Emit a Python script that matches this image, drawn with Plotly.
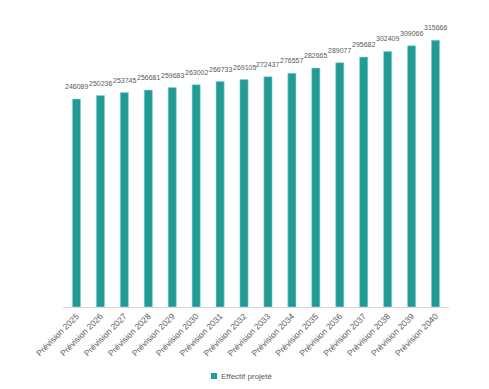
import plotly.graph_objects as go

categories = ["Prévision 2025", "Prévision 2026", "Prévision 2027", "Prévision 2028",
              "Prévision 2029", "Prévision 2030", "Prévision 2031", "Prévision 2032",
              "Prévision 2033", "Prévision 2034", "Prévision 2035", "Prévision 2036",
              "Prévision 2037", "Prévision 2038", "Prévision 2039", "Prévision 2040"]
values = [246089, 250236, 253745, 256681, 259683, 263002, 266733, 269105,
          272437, 276557, 282665, 289077, 295682, 302409, 309066, 315666]
series_name = "Effectif projeté"
bar_color = "#229b96"

fig = go.Figure()
fig.add_trace(go.Bar(
    x=categories, y=values, name=series_name,
    marker=dict(color=bar_color, line=dict(color="#8fd3cf", width=0.6)),
    width=0.34, showlegend=False,
))
for c, v in zip(categories, values):
    fig.add_annotation(x=c, y=v, text=str(v), showarrow=False, yanchor="bottom",
                       yshift=7, font=dict(size=7, color="#595959",
                                           family="Liberation Sans, Arial"))
# legend
fig.add_shape(type="rect", xref="paper", yref="paper",
              x0=(211 - 63) / 386, x1=(217 - 63) / 386,
              y0=(307 - 379) / 287, y1=(307 - 373) / 287,
              fillcolor=bar_color, line=dict(width=0))
fig.add_annotation(xref="paper", yref="paper", x=(219 - 63) / 386, y=(307 - 376) / 287,
                   xanchor="left", yanchor="middle", showarrow=False,
                   text=series_name, font=dict(size=8, color="#595959",
                                               family="Liberation Sans, Arial"))
fig.update_layout(
    width=481, height=381,
    margin=dict(l=55, r=40, t=12, b=82),
    paper_bgcolor="white", plot_bgcolor="white",
    font=dict(family="Liberation Sans, Arial", color="#595959"),
    showlegend=False,
    xaxis=dict(tickangle=-45, tickfont=dict(size=8.5, color="#595959"),
               showline=True, linecolor="#d9d9d9", linewidth=1, ticks="",
               automargin=False),
    yaxis=dict(range=[0, 339600], visible=False, showgrid=False),
)
fig.write_html("out.html")
